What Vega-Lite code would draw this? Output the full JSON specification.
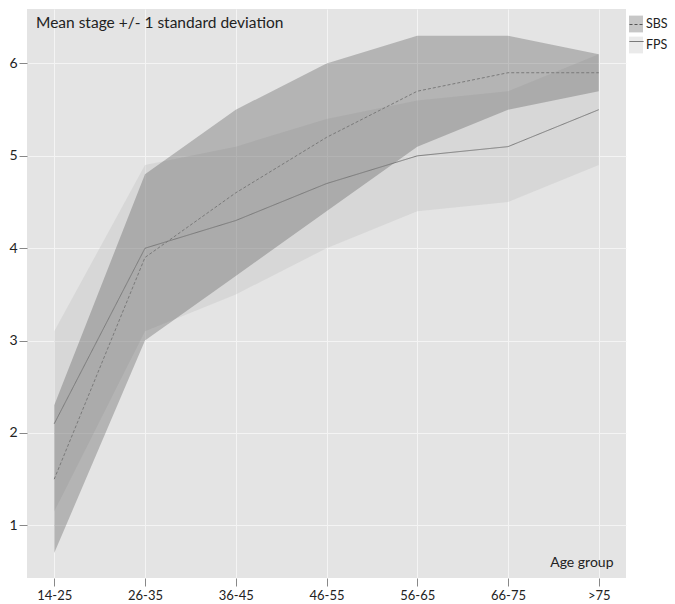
{
  "$schema": "https://vega.github.io/schema/vega-lite/v6.json",
  "autosize": "none",
  "width": 599,
  "height": 569,
  "padding": {"left": 27, "top": 9, "right": 49, "bottom": 26},
  "background": "white",
  "title": {
    "text": "Mean stage +/- 1 standard deviation",
    "anchor": "start",
    "frame": "group",
    "orient": "top",
    "baseline": "top",
    "offset": -10,
    "dx": 9,
    "dy": 12,
    "font": "Lato",
    "fontSize": 15.5,
    "fontWeight": "normal",
    "color": "#222222"
  },
  "data": {
    "values": [
      {"age": "14-25", "group": "SBS", "mean": 1.5, "lo": 0.7, "hi": 2.3},
      {"age": "26-35", "group": "SBS", "mean": 3.9, "lo": 3.0, "hi": 4.8},
      {"age": "36-45", "group": "SBS", "mean": 4.6, "lo": 3.7, "hi": 5.5},
      {"age": "46-55", "group": "SBS", "mean": 5.2, "lo": 4.4, "hi": 6.0},
      {"age": "56-65", "group": "SBS", "mean": 5.7, "lo": 5.1, "hi": 6.3},
      {"age": "66-75", "group": "SBS", "mean": 5.9, "lo": 5.5, "hi": 6.3},
      {"age": ">75", "group": "SBS", "mean": 5.9, "lo": 5.7, "hi": 6.1},
      {"age": "14-25", "group": "FPS", "mean": 2.1, "lo": 1.15, "hi": 3.1},
      {"age": "26-35", "group": "FPS", "mean": 4.0, "lo": 3.1, "hi": 4.9},
      {"age": "36-45", "group": "FPS", "mean": 4.3, "lo": 3.5, "hi": 5.1},
      {"age": "46-55", "group": "FPS", "mean": 4.7, "lo": 4.0, "hi": 5.4},
      {"age": "56-65", "group": "FPS", "mean": 5.0, "lo": 4.4, "hi": 5.6},
      {"age": "66-75", "group": "FPS", "mean": 5.1, "lo": 4.5, "hi": 5.7},
      {"age": ">75", "group": "FPS", "mean": 5.5, "lo": 4.9, "hi": 6.1}
    ]
  },
  "encoding": {
    "x": {
      "field": "age",
      "type": "ordinal",
      "sort": ["14-25", "26-35", "36-45", "46-55", "56-65", "66-75", ">75"],
      "scale": {"type": "point", "padding": 0.3},
      "axis": {
        "title": "Age group",
        "titleX": 586,
        "titleY": -12,
        "titleAlign": "right",
        "titleAnchor": null,
        "titleBaseline": "alphabetic",
        "titleFont": "Lato",
        "titleFontSize": 14,
        "titleFontWeight": "normal",
        "titleColor": "#222222",
        "labelAngle": 0,
        "grid": true,
        "domain": false,
        "tickColor": "#888888",
        "tickSize": 8,
        "labelPadding": 3
      }
    }
  },
  "layer": [
    {
      "transform": [{"filter": "datum.group === 'FPS'"}],
      "mark": {"type": "area", "opacity": 0.3},
      "encoding": {
        "y": {"field": "lo", "type": "quantitative",
          "scale": {"domain": [0.43, 6.59], "nice": false, "zero": false},
          "axis": {"title": null, "values": [1, 2, 3, 4, 5, 6], "format": "d", "grid": true, "domain": false, "tickColor": "#888888", "tickSize": 8, "labelPadding": 2, "labelFontSize": 14}},
        "y2": {"field": "hi"},
        "fill": {
          "field": "group", "type": "nominal",
          "scale": {"domain": ["SBS", "FPS"], "range": ["#444444", "#b9b9b9"]},
          "legend": {
            "title": null, "orient": "none", "legendX": 602, "legendY": 8,
            "padding": 0, "symbolType": "M-1,-1.2H1V1.2H-1Z", "symbolSize": 196,
            "symbolOpacity": 0.47, "symbolStrokeWidth": 0, "rowPadding": 3,
            "labelFont": "Lato", "labelFontSize": 12.5, "labelColor": "#222222", "labelOffset": 3
          }
        }
      }
    },
    {
      "transform": [{"filter": "datum.group === 'SBS'"}],
      "mark": {"type": "area", "opacity": 0.3},
      "encoding": {
        "y": {"field": "lo", "type": "quantitative"},
        "y2": {"field": "hi"},
        "fill": {"field": "group", "type": "nominal"}
      }
    },
    {
      "mark": {"type": "line", "stroke": "#7a7a7a", "strokeWidth": 1},
      "encoding": {
        "y": {"field": "mean", "type": "quantitative"},
        "detail": {"field": "group"},
        "strokeDash": {
          "field": "group", "type": "nominal",
          "sort": ["SBS", "FPS"],
          "scale": {"range": [[3, 2], [1, 0]]},
          "legend": {
            "title": null, "orient": "none", "legendX": 602, "legendY": 8,
            "padding": 0, "symbolType": "stroke", "symbolSize": 196,
            "symbolStrokeColor": "#555555", "symbolStrokeWidth": 1, "rowPadding": 3,
            "labelFontSize": 12.5, "labelExpr": "''", "labelOffset": 3
          }
        }
      }
    }
  ],
  "config": {
    "view": {"fill": "#e4e4e4", "stroke": null},
    "axis": {
      "gridColor": "#f4f4f4",
      "gridWidth": 1,
      "labelFont": "Lato",
      "labelFontSize": 13,
      "labelColor": "#222222",
      "ticks": true
    }
  }
}
